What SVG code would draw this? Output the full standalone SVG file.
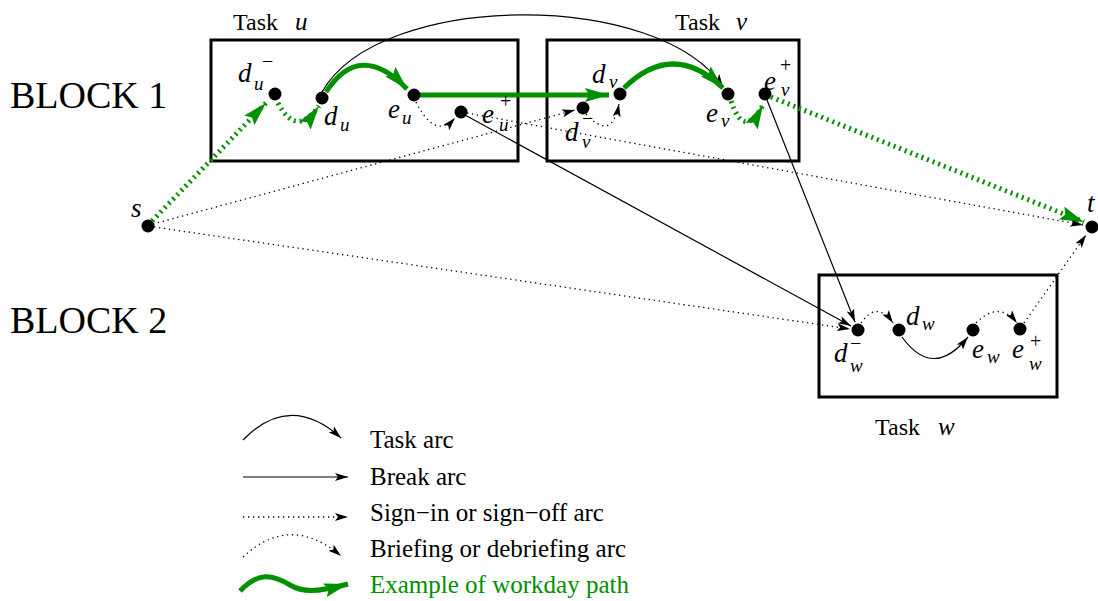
<svg xmlns="http://www.w3.org/2000/svg" width="1098" height="601" viewBox="0 0 1098 601" font-family="'Liberation Serif', Tinos, 'Times New Roman', 'DejaVu Serif', serif">
  <style>
    .box { fill: none; stroke: #000; stroke-width: 3; }
    .dot { fill: #000; }
    .lbl { font-family: 'Liberation Serif', Tinos, 'Times New Roman', 'DejaVu Serif', serif; fill: #000; }
    .m { font-family: 'Liberation Serif', Tinos, 'Times New Roman', 'DejaVu Serif', serif; font-style: italic; font-size: 27px; }
    .sb { font-family: 'Liberation Serif', Tinos, 'Times New Roman', 'DejaVu Serif', serif; font-style: italic; font-size: 19px; }
    .sp { font-family: 'Liberation Serif', Tinos, 'Times New Roman', 'DejaVu Serif', serif; font-size: 20px; }
    .blk { font-size: 38px; }
    .ttl { font-size: 24px; }
    .leg { font-size: 25px; }
    .task { fill: none; stroke: #000; stroke-width: 1.2; marker-end: url(#ah); }
    .brk { fill: none; stroke: #000; stroke-width: 1.2; marker-end: url(#ah); }
    .sign { fill: none; stroke: #000; stroke-width: 1.3; stroke-dasharray: 1.3 3.7; marker-end: url(#ah); }
    .brief { fill: none; stroke: #000; stroke-width: 1.3; stroke-dasharray: 1.3 3.7; marker-end: url(#ah); }
    .gsolid { fill: none; stroke: #009000; stroke-width: 5; marker-end: url(#gah); }
    .gdot { fill: none; stroke: #009000; stroke-width: 5; stroke-dasharray: 2 4; marker-end: url(#gah); }
  </style>
  <defs>
    <marker id="ah" viewBox="0 0 13 8" refX="13" refY="4" markerWidth="13" markerHeight="8" markerUnits="userSpaceOnUse" orient="auto">
      <path d="M0,0 L13,4 L0,8 L3,4 Z" fill="#000" stroke="none"/>
    </marker>
    <marker id="gah" viewBox="0 0 24 14" refX="24" refY="7" markerWidth="24" markerHeight="14" markerUnits="userSpaceOnUse" orient="auto">
      <path d="M0,0 L24,7 L0,14 L4,7 Z" fill="#009000" stroke="none"/>
    </marker>
  </defs>

  <rect width="1098" height="601" fill="#fff"/>

  <!-- block labels -->
  <text class="lbl blk" x="10" y="108">BLOCK 1</text>
  <text class="lbl blk" x="10" y="333">BLOCK 2</text>

  <!-- task boxes -->
  <g id="task-u">
    <rect class="box" x="211" y="40" width="307" height="121"/>
    <text class="lbl ttl" x="233" y="30">Task</text>
    <text class="m" x="295" y="30" style="font-size:25px">u</text>
  </g>
  <g id="task-v">
    <rect class="box" x="547" y="40" width="252" height="121"/>
    <text class="lbl ttl" x="675" y="30">Task</text>
    <text class="m" x="736" y="30" style="font-size:25px">v</text>
  </g>
  <g id="task-w">
    <rect class="box" x="819" y="275" width="238" height="122"/>
    <text class="lbl ttl" x="875" y="435">Task</text>
    <text class="m" x="938" y="435" style="font-size:25px">w</text>
  </g>

  <!-- connectors -->
  <g id="connectors">
    <!-- task arc d_u to e_v -->
    <path class="task" d="M322,92 C380,-10 660,-10 723,87"/>
    <!-- sign-in arcs -->
    <path class="sign" d="M153,224 L575,110"/>
    <path class="sign" d="M154,227 L850,329"/>
    <!-- sign-off arcs -->
    <path class="sign" d="M467,113 L1083,225"/>
    <path class="sign" d="M1024,323 L1086,235"/>
    <!-- briefing / debriefing arcs -->
    <path class="brief" d="M416,102 Q435,140 455,118"/>
    <path class="brief" d="M586,114 Q612,142 619,104"/>
    <path class="brief" d="M861,323 Q877,300 893,323"/>
    <path class="brief" d="M976,323 Q999,300 1017,323"/>
    <!-- break arcs -->
    <path class="brk" d="M465,115 L851,326"/>
    <path class="brk" d="M767,100 L855,322"/>
    <!-- task arc d_w to e_w -->
    <path class="task" d="M902,337 Q933,380 968,337"/>

    <!-- workday path -->
    <path class="gdot" d="M152,221 L266,103"/>
    <path class="gdot" d="M278,103 Q296,138 319,106"/>
    <path class="gsolid" d="M326,92 Q360,40 407,89"/>
    <path class="gsolid" d="M420,95 L609,95"/>
    <path class="gsolid" d="M624,88 Q673,40 723,88"/>
    <path class="gdot" d="M731,101 Q744,140 763,105"/>
    <path class="gdot" d="M771,97 L1084,222"/>
  </g>

  <!-- nodes -->
  <g id="s"><circle class="dot" cx="148" cy="226" r="6.5"/><text class="m" x="131" y="217">s</text></g>
  <g id="t"><circle class="dot" cx="1092" cy="227" r="6.5"/><text class="m" x="1087" y="212">t</text></g>

  <g id="d-u-minus"><circle class="dot" cx="275" cy="94" r="6.5"/>
    <text class="m" x="238" y="82">d</text><text class="sb" x="254" y="90">u</text><text class="sp" x="262" y="68">−</text></g>
  <g id="d-u"><circle class="dot" cx="322" cy="98" r="6.5"/>
    <text class="m" x="324" y="125">d</text><text class="sb" x="340" y="131">u</text></g>
  <g id="e-u"><circle class="dot" cx="414" cy="95" r="6.5"/>
    <text class="m" x="388" y="118">e</text><text class="sb" x="402" y="124">u</text></g>
  <g id="e-u-plus"><circle class="dot" cx="461" cy="112" r="6.5"/>
    <text class="m" x="482" y="123">e</text><text class="sb" x="499" y="131">u</text><text class="sp" x="500" y="108">+</text></g>

  <g id="d-v-minus"><circle class="dot" cx="583" cy="108" r="6.5"/>
    <text class="m" x="565" y="141">d</text><text class="sb" x="582" y="148">v</text><text class="sp" x="582" y="125">−</text></g>
  <g id="d-v"><circle class="dot" cx="620" cy="94" r="6.5"/>
    <text class="m" x="592" y="83">d</text><text class="sb" x="609" y="88">v</text></g>
  <g id="e-v"><circle class="dot" cx="728" cy="94" r="6.5"/>
    <text class="m" x="706" y="122">e</text><text class="sb" x="721" y="127">v</text></g>
  <g id="e-v-plus"><circle class="dot" cx="765" cy="94" r="6.5"/>
    <text class="m" x="764" y="90">e</text><text class="sb" x="781" y="96">v</text><text class="sp" x="780" y="72">+</text></g>

  <g id="d-w-minus"><circle class="dot" cx="858" cy="330" r="6.5"/>
    <text class="m" x="834" y="362">d</text><text class="sb" x="850" y="372">w</text><text class="sp" x="850" y="350">−</text></g>
  <g id="d-w"><circle class="dot" cx="899" cy="330" r="6.5"/>
    <text class="m" x="906" y="325">d</text><text class="sb" x="922" y="330">w</text></g>
  <g id="e-w"><circle class="dot" cx="973" cy="330" r="6.5"/>
    <text class="m" x="972" y="358">e</text><text class="sb" x="987" y="363">w</text></g>
  <g id="e-w-plus"><circle class="dot" cx="1020" cy="329" r="6.5"/>
    <text class="m" x="1012" y="358">e</text><text class="sb" x="1029" y="370">w</text><text class="sp" x="1030" y="348">+</text></g>

  <!-- legend -->
  <g id="legend">
    <path class="task" d="M243,440 Q290,392 341,438"/>
    <text class="lbl leg" x="370" y="448">Task arc</text>
    <path class="brk" d="M243,477 L348,477"/>
    <text class="lbl leg" x="370" y="485">Break arc</text>
    <path class="sign" d="M243,517 L348,517"/>
    <text class="lbl leg" x="370" y="521">Sign−in or sign−off arc</text>
    <path class="brief" d="M243,557 Q290,513 341,556"/>
    <text class="lbl leg" x="370" y="557">Briefing or debriefing arc</text>
    <path class="gsolid" d="M240,591 C258,572 272,574 290,585 C302,592 315,593 348,584"/>
    <text class="lbl leg" x="370" y="593" style="fill:#009000">Example of workday path</text>
  </g>
</svg>
